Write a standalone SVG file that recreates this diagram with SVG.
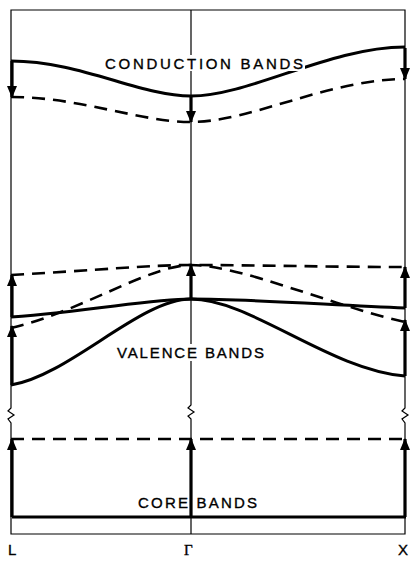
<svg xmlns="http://www.w3.org/2000/svg" width="412" height="561" viewBox="0 0 412 561">
<defs>
<style>
.thin{fill:none;stroke:#000;stroke-width:1.2}
.band{fill:none;stroke:#000;stroke-width:3}
.dash{fill:none;stroke:#000;stroke-width:2.6;stroke-dasharray:13 8}
.arr{fill:none;stroke:#000;stroke-width:3.2;marker-end:url(#ah)}
.lbl{font-family:"Liberation Sans",Arial,sans-serif;font-size:15px;fill:#000;stroke:#000;stroke-width:0.35}
.ax{font-family:"Liberation Sans",Arial,sans-serif;font-size:15px;fill:#000;stroke:#000;stroke-width:0.35}
</style>
<marker id="ah" markerUnits="userSpaceOnUse" markerWidth="12" markerHeight="10" viewBox="0 0 12 10" refX="11" refY="5" orient="auto">
<path d="M0,0 L12,5 L0,10 z" fill="#000"/>
</marker>
</defs>
<g id="frame">
<path class="thin" d="M11,534 V423 L8,419 L14,415 L8,411 L11,408 V10 H405 V408 L402,411 L408,415 L402,419 L405,423 V534 Z"/>
<path class="thin" d="M191,10 V405 L188,408 L194,412 L188,416 L191,419 V534"/>
<path class="band" d="M12,517 H406"/>
</g>
<g id="conduction">
<path class="band" d="M11,61 C 80,61 140,96 191,96 C 250,96 330,47 405,47"/>
<path class="dash" d="M11,97 C 80,97 140,122 191,122 C 250,122 330,79 405,79"/>
</g>
<g id="valence">
<path class="dash" d="M11,275 C 100,270 150,265 191,265 C 250,265 330,267 405,267"/>
<path class="band" d="M11,317 C 100,310 150,299 191,299 C 250,299 330,305 405,308"/>
<path class="dash" d="M11,328 C 80,312 150,265 191,265 C 240,265 330,305 405,322"/>
<path class="band" d="M11,385 C 70,375 140,299 191,299 C 250,299 330,370 405,376"/>
</g>
<g id="core">
<path class="dash" d="M11,439 H405"/>
</g>
<g id="connectors">
<path class="arr" d="M12,61 V97"/>
<path class="arr" d="M191,97 V122"/>
<path class="arr" d="M405,48 V79"/>
<path class="arr" d="M12,317 V275"/>
<path class="arr" d="M12,385 V326"/>
<path class="arr" d="M191,299 V265"/>
<path class="arr" d="M405,308 V267"/>
<path class="arr" d="M405,376 V320"/>
<path class="arr" d="M12,517 V439"/>
<path class="arr" d="M191,517 V439"/>
<path class="arr" d="M405,517 V439"/>
</g>
<g id="labels">
<rect x="103" y="55" width="202" height="16" fill="#fff"/>
<text class="lbl" x="105" y="69" textLength="198" lengthAdjust="spacing">CONDUCTION BANDS</text>
<rect x="115" y="344" width="152" height="17" fill="#fff"/>
<text class="lbl" x="117" y="358" textLength="147" lengthAdjust="spacing">VALENCE BANDS</text>
<text class="ax" x="138" y="508" textLength="119" lengthAdjust="spacing">CORE  BANDS</text>
<text class="ax" x="8" y="555">L</text>
<text class="ax" x="184" y="555" style="font-family:'Liberation Serif',serif">Γ</text>
<text class="ax" x="398" y="555">X</text>
</g>
</svg>
